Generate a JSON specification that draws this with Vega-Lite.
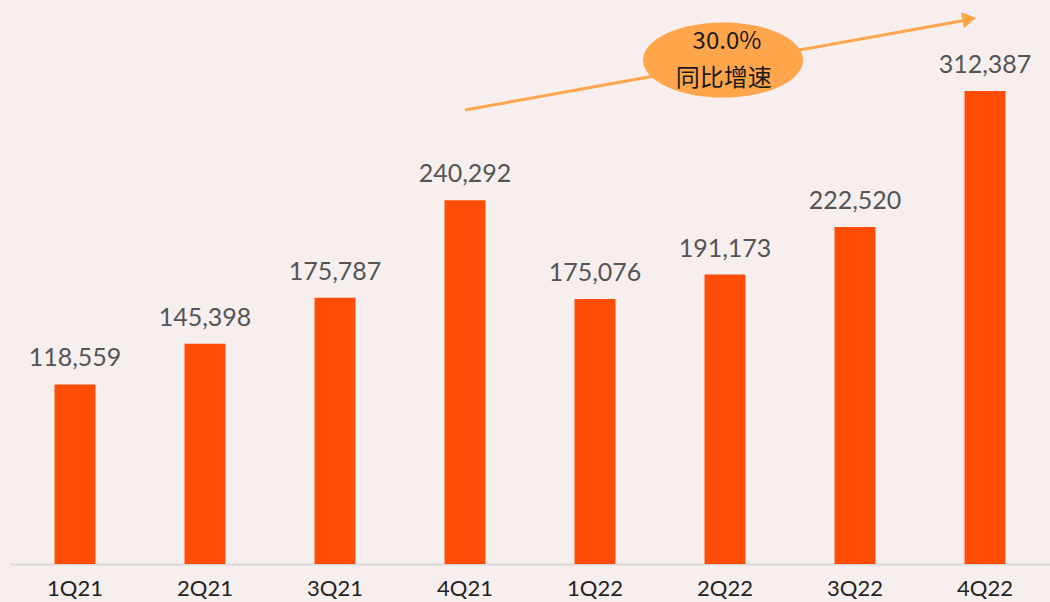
{
  "$schema": "https://vega.github.io/schema/vega-lite/v6.json",
  "width": 1040,
  "height": 564,
  "autosize": {"type": "none"},
  "padding": {"left": 10, "top": 0, "right": 0, "bottom": 38},
  "background": "#F7EEEE",
  "config": {"view": {"stroke": null}, "font": "Lato"},
  "datasets": {
    "bars": [
      {"q": "1Q21", "v": 118559},
      {"q": "2Q21", "v": 145398},
      {"q": "3Q21", "v": 175787},
      {"q": "4Q21", "v": 240292},
      {"q": "1Q22", "v": 175076},
      {"q": "2Q22", "v": 191173},
      {"q": "3Q22", "v": 222520},
      {"q": "4Q22", "v": 312387}
    ],
    "arrow": [
      {"px": 3.5, "py": 299850},
      {"px": 7.36, "py": 359300}
    ],
    "head": [{"px": 7.38, "py": 359950}],
    "bubble": [{"px": 5.485, "py": 332870}],
    "btext": [
      {"px": 5.515, "py": 344750, "t": "30.0%"},
      {"px": 5.49, "py": 320330, "t": "同比增速"}
    ]
  },
  "resolve": {"scale": {"x": "independent"}},
  "layer": [
    {
      "data": {"name": "bars"},
      "layer": [
        {
          "mark": {"type": "bar", "color": "#FF4D06"},
          "encoding": {
            "x": {
              "field": "q", "type": "nominal", "sort": null,
              "scale": {"paddingInner": 0.685, "paddingOuter": 0.3425},
              "axis": {
                "title": null, "labelAngle": 0, "ticks": false,
                "domainColor": "#D9D9D9", "domainWidth": 2,
                "labelFontSize": 22, "labelColor": "#222222",
                "labelPadding": 14, "labelFont": "Lato"
              }
            },
            "y": {
              "field": "v", "type": "quantitative",
              "scale": {"domain": [0, 372500], "nice": false, "zero": true},
              "axis": null
            }
          }
        },
        {
          "mark": {"type": "text", "baseline": "bottom", "dy": -13, "fontSize": 25, "color": "#555555", "font": "Lato"},
          "encoding": {
            "x": {"field": "q", "type": "nominal", "sort": null},
            "y": {"field": "v", "type": "quantitative"},
            "text": {"field": "v", "type": "quantitative", "format": ",d"}
          }
        }
      ]
    },
    {
      "layer": [
        {
          "data": {"name": "arrow"},
          "mark": {"type": "line", "color": "#FFA54C", "strokeWidth": 3},
          "encoding": {
            "x": {"field": "px", "type": "quantitative", "scale": {"domain": [0, 8], "nice": false, "zero": true}, "axis": null},
            "y": {"field": "py", "type": "quantitative"}
          }
        },
        {
          "data": {"name": "head"},
          "mark": {"type": "point", "shape": "triangle-right", "filled": true, "opacity": 1, "color": "#FFA54C", "size": 260, "angle": 350},
          "encoding": {
            "x": {"field": "px", "type": "quantitative"},
            "y": {"field": "py", "type": "quantitative"}
          }
        },
        {
          "data": {"name": "bubble"},
          "mark": {"type": "point", "shape": "M -1 0 A 1 0.47 0 1 0 1 0 A 1 0.47 0 1 0 -1 0 Z", "filled": true, "opacity": 1, "color": "#FFA54C", "size": 25600},
          "encoding": {
            "x": {"field": "px", "type": "quantitative"},
            "y": {"field": "py", "type": "quantitative"}
          }
        },
        {
          "data": {"name": "btext"},
          "mark": {"type": "text", "fontSize": 24, "color": "#1a1a1a", "font": "Noto Sans CJK SC", "baseline": "middle"},
          "encoding": {
            "x": {"field": "px", "type": "quantitative"},
            "y": {"field": "py", "type": "quantitative"},
            "text": {"field": "t", "type": "nominal"}
          }
        }
      ]
    }
  ]
}
